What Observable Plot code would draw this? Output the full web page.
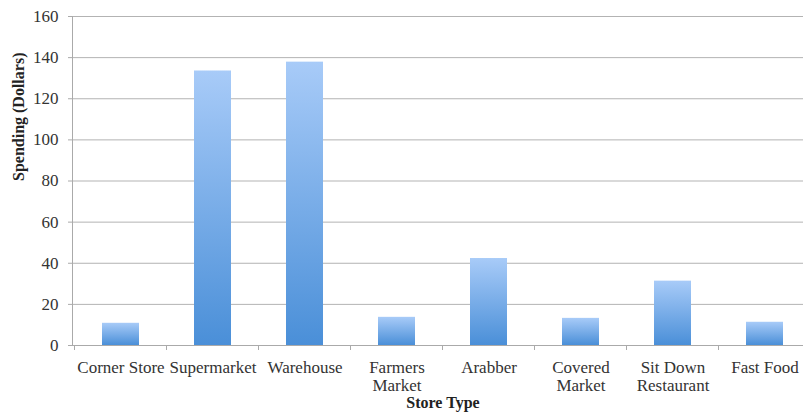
<!DOCTYPE html>
<html><head><meta charset="utf-8">
<script src="https://cdn.jsdelivr.net/npm/d3@7"></script>
<script src="https://cdn.jsdelivr.net/npm/@observablehq/plot@0.6"></script>
<style>body{margin:0;background:#fff;} svg{display:block;}</style>
</head><body><div id="chart"></div>
<script>
const categories = ["Corner Store","Supermarket","Warehouse","Farmers\nMarket","Arabber","Covered\nMarket","Sit Down\nRestaurant","Fast Food"];
const spending = [10.8,133.5,137.8,13.7,42.3,13.2,31.3,11.3];
const yTicks = [0,20,40,60,80,100,120,140,160];
const data = categories.map((c,i)=>({cat:c, v:spending[i]}));

const chart = Plot.plot({
  width: 803, height: 416,
  marginLeft: 72, marginRight: -10, marginTop: 16, marginBottom: 71,
  style: {fontFamily: "'Liberation Serif', serif", fontSize: "17px", color: "#333", background: "#fff"},
  x: {domain: categories, paddingInner: 0.6, paddingOuter: 0.3, label: null},
  y: {domain: [0,160], ticks: yTicks, label: null},
  marks: [
    Plot.gridY(yTicks, {stroke: "#b3b3b3", strokeOpacity: 1}),
    Plot.barY(data, {x: "cat", y: "v", fill: "url(#barGrad)"}),
    Plot.ruleY([0], {stroke: "#aaa"}),
    Plot.frame({anchor: "left", stroke: "#aaa"}),
    Plot.axisY(yTicks, {tickSize: 4, tickPadding: 10, stroke: "#aaa", fill: "#333", fontSize: 17}),
    Plot.axisX({tickSize: 0, tickPadding: 14, fill: "#333", fontSize: 17, lineHeight: 1.1}),
    Plot.text(["Spending (Dollars)"], {frameAnchor: "left", dx: -54, rotate: -90, fontWeight: "bold", fontSize: 16, fill: "#222"}),
    Plot.text(["Store Type"], {frameAnchor: "bottom", dy: 62, fontWeight: "bold", fontSize: 16, fill: "#222"})
  ]
});

const svg = d3.select(chart);
const defs = svg.insert("defs", ":first-child");
const g = defs.append("linearGradient").attr("id","barGrad").attr("x1",0).attr("y1",0).attr("x2",0).attr("y2",1);
g.append("stop").attr("offset","0%").attr("stop-color","#a8cbf8");
g.append("stop").attr("offset","100%").attr("stop-color","#4a8fd8");

// boundary ticks on x axis
const xs = chart.scale("x");
const ys = chart.scale("y");
const step = xs.step;
const y0 = ys.apply(0);
const tickG = svg.append("g").attr("stroke","#aaa");
categories.concat([null]).forEach((c,i)=>{
  const xpos = i < categories.length ? xs.apply(c) - (step - xs.bandwidth)/2 : xs.apply(categories[categories.length-1]) + xs.bandwidth + (step - xs.bandwidth)/2;
  tickG.append("line").attr("x1",xpos).attr("x2",xpos).attr("y1",y0).attr("y2",y0+5);
});
document.getElementById("chart").appendChild(chart);
</script>
</body></html>
